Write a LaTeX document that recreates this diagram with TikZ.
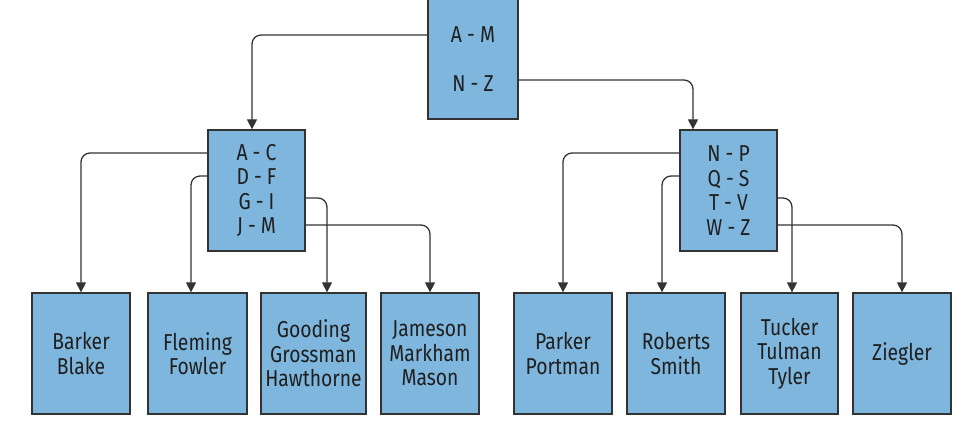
\documentclass[tikz,border=0pt]{standalone}
\usepackage{fontspec}
\setmainfont[FakeStretch=0.84]{Fira Sans}
\usetikzlibrary{arrows.meta,calc}
\definecolor{boxfill}{HTML}{7FB6DD}
\definecolor{linec}{HTML}{333333}
\begin{document}
\begin{tikzpicture}[x=1pt,y=-1pt,
  box/.style={draw=linec,line width=1.3pt,fill=boxfill,inner sep=0pt,align=center,
    font=\fontsize{23}{24.5}\selectfont,text=black!88},
  conn/.style={draw=linec,line width=1.3pt,rounded corners=9pt,-{Triangle[length=10pt,width=10pt]}}]
\useasboundingbox (0,0) rectangle (962,425);
\fill[white] (0,0) rectangle (962,425);
% root
\node[box,minimum width=90,minimum height=120] (root) at (473,59) {A - M\\[24.5pt]N - Z};
% mid level
\node[box,minimum width=97,minimum height=121] (ml) at (256.5,190.5) {A - C\\D - F\\G - I\\J - M};
\node[box,minimum width=97,minimum height=121] (mr) at (728.5,190.5) {N - P\\Q - S\\T - V\\W - Z};
% leaves
\node[box,minimum width=98,minimum height=121] (l1) at (81,353.5) {Barker\\Blake};
\node[box,minimum width=99,minimum height=121] (l2) at (197.5,353.5) {Fleming\\Fowler};
\node[box,minimum width=105,minimum height=121] (l3) at (313.5,353.5) {Gooding\\Grossman\\Hawthorne};
\node[box,minimum width=98,minimum height=121] (l4) at (430,353.5) {Jameson\\Markham\\Mason};
\node[box,minimum width=98,minimum height=121] (r1) at (563,353.5) {Parker\\Portman};
\node[box,minimum width=98,minimum height=121] (r2) at (676,353.5) {Roberts\\Smith};
\node[box,minimum width=97,minimum height=121] (r3) at (789.5,353.5) {Tucker\\Tulman\\Tyler};
\node[box,minimum width=98,minimum height=121] (r4) at (902,353.5) {Ziegler};
% connectors root -> mid
\draw[conn] (root.west |- 0,35) -| ([xshift=-4.5]ml.north);
\draw[conn] (root.east |- 0,80) -| ([xshift=-35.5]mr.north);
% mid left -> leaves
\draw[conn] (ml.west |- 0,153) -| (l1.north);
\draw[conn] (ml.west |- 0,176) -| ([xshift=-6.5]l2.north);
\draw[conn] (ml.east |- 0,198) -| ([xshift=13.5]l3.north);
\draw[conn] (ml.east |- 0,225) -| (l4.north);
% mid right -> leaves
\draw[conn] (mr.west |- 0,153) -| (r1.north);
\draw[conn] (mr.west |- 0,176) -| ([xshift=-14]r2.north);
\draw[conn] (mr.east |- 0,198) -| ([xshift=2.5]r3.north);
\draw[conn] (mr.east |- 0,225) -| (r4.north);
\end{tikzpicture}
\end{document}
